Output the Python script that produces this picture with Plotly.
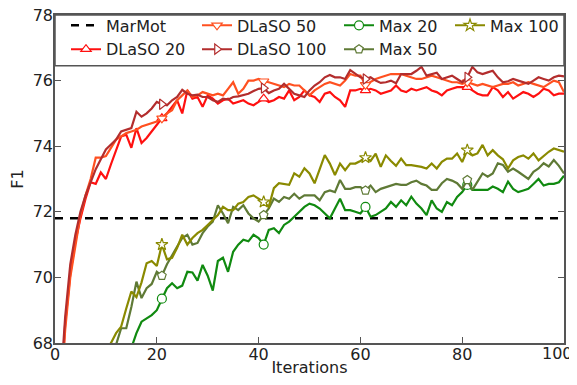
import plotly.graph_objects as go

iterations = list(range(1, 101))
marmot_f1 = 71.8

dlaso_20 = [66.0, 68.6, 70.1, 71.1, 71.8, 72.4, 72.9, 72.85, 73.2, 73.0,
            73.45, 73.85, 74.3, 74.35, 73.95, 74.55, 74.1, 74.25, 74.45, 74.65,
            74.85, 75.0, 75.2, 75.4, 75.0, 75.7, 75.45, 75.5, 75.2, 75.55,
            75.45, 75.3, 75.4, 75.45, 75.3, 75.35, 75.4, 75.3, 75.25, 75.35,
            75.45, 75.35, 75.4, 75.5, 75.45, 75.7, 75.4, 75.5, 75.7, 75.55,
            75.5, 75.35, 75.6, 75.65, 75.5, 75.4, 75.2, 75.7, 75.7, 75.75,
            75.7, 75.75, 75.7, 75.6, 75.65, 75.7, 75.85, 75.7, 75.65, 75.75,
            75.7, 75.75, 75.8, 75.7, 75.65, 75.55, 75.7, 75.75, 75.8, 75.8,
            75.8, 75.7, 75.6, 75.55, 75.55, 75.8, 75.7, 75.5, 75.65, 75.45,
            75.55, 75.65, 75.6, 75.5, 75.6, 75.75, 75.7, 75.55, 75.6, 75.6]

dlaso_50 = [66.2, 68.4, 70.0, 71.0, 71.9, 72.5, 73.0, 73.65, 73.65, 73.7,
            73.95, 74.2, 74.3, 74.4, 74.45, 74.5, 74.6, 74.65, 74.7, 74.75,
            74.85, 75.0, 75.1, 75.4, 75.55, 75.7, 75.5, 75.55, 75.65, 75.6,
            75.55, 75.6, 75.55, 75.75, 75.95, 75.6, 75.75, 76.0, 76.0, 76.05,
            75.98, 75.95, 75.9, 75.85, 75.8, 75.9, 75.85, 75.85, 75.7, 75.55,
            75.7, 75.8, 75.9, 75.95, 75.9, 75.85, 76.0, 76.2, 76.15, 76.15,
            75.87, 75.95, 76.05, 76.1, 76.15, 76.2, 76.2, 76.2, 76.15, 76.1,
            76.05, 76.05, 76.1, 76.15, 76.1, 76.05, 76.0, 75.95, 75.95, 75.9,
            75.95, 75.9, 75.85, 75.9, 75.85, 75.8, 75.85, 75.9, 75.9, 75.95,
            75.85, 75.9, 75.95, 75.9, 75.85, 75.8, 75.9, 76.0, 75.95, 75.65]

dlaso_100 = [66.5, 68.8, 70.4, 71.3, 72.0, 72.5, 72.9, 73.3, 73.6, 73.9,
             74.05, 74.2, 74.45, 74.5, 74.55, 75.05, 74.9, 75.0, 75.15, 75.35,
             75.28, 75.25, 75.4, 75.5, 75.72, 75.6, 75.55, 75.57, 75.5, 75.5,
             75.4, 75.35, 75.45, 75.42, 75.5, 75.52, 75.55, 75.6, 75.68, 75.75,
             75.77, 75.62, 75.7, 75.75, 75.9, 75.75, 75.6, 75.55, 75.5, 75.7,
             75.85, 75.95, 76.1, 76.17, 76.1, 76.1, 76.05, 76.32, 76.2, 76.1,
             76.05, 76.1, 76.0, 75.93, 75.95, 76.0, 75.92, 76.2, 76.2, 76.2,
             76.3, 76.42, 76.15, 76.2, 76.24, 76.05, 76.1, 76.15, 76.05, 75.95,
             76.1, 76.42, 76.25, 76.2, 76.25, 76.3, 76.1, 75.95, 75.98, 76.05,
             76.0, 75.95, 75.9, 76.0, 76.1, 76.05, 76.0, 76.1, 76.15, 76.13]

max_20 = [64.5, 65.0, 65.4, 65.8, 66.2, 66.5, 66.8, 67.0, 67.2, 67.4,
          67.5, 67.6, 67.7, 67.8, 67.85, 68.3, 68.65, 68.75, 68.85, 69.0,
          69.35, 69.67, 69.82, 69.67, 69.75, 70.17, 70.15, 69.9, 70.38, 70.05,
          69.6, 70.5, 70.6, 70.17, 70.78, 71.0, 71.15, 71.1, 71.3, 71.2,
          71.0, 71.45, 71.5, 71.35, 71.6, 71.7, 71.85, 72.0, 72.15, 72.25,
          72.2, 72.1, 71.95, 71.8, 72.1, 72.4, 72.05, 72.05, 72.0, 71.95,
          72.15, 71.85, 71.9, 72.0, 72.1, 72.3, 72.15, 72.35, 72.2, 72.46,
          72.25, 72.1, 71.9, 72.35, 72.1, 72.0, 72.3, 72.2, 72.45, 72.6,
          72.82, 72.67, 72.67, 72.67, 72.67, 72.77, 72.7, 72.6, 72.92, 72.7,
          72.6, 72.65, 72.7, 72.85, 73.0, 72.8, 72.85, 72.85, 72.9, 73.1]

max_50 = [65.0, 65.4, 65.8, 66.1, 66.4, 66.7, 67.0, 67.2, 67.4, 67.6,
          67.8, 67.95, 68.45, 68.45, 69.1, 69.87, 69.37, 69.67, 69.8, 70.17,
          70.05, 70.4, 70.65, 70.94, 71.2, 71.3, 71.0, 71.05, 71.35, 71.55,
          71.7, 72.2, 71.95, 71.65, 72.15, 72.05, 72.2, 71.95, 71.8, 71.7,
          71.9, 72.1, 72.4, 72.3, 72.45, 72.4, 72.55, 72.4, 72.5, 72.5,
          72.5, 72.35, 72.6, 72.65, 72.6, 72.97, 72.7, 72.7, 72.75, 72.75,
          72.65, 72.8, 72.6, 72.7, 72.75, 72.8, 72.85, 72.82, 72.82, 72.9,
          72.95, 72.85, 72.8, 72.67, 72.67, 72.87, 73.0, 72.95, 72.87, 72.7,
          72.97, 72.67, 72.92, 73.17, 73.07, 73.17, 73.48, 73.43, 73.22, 73.32,
          73.22, 73.1, 73.0, 73.22, 73.32, 73.48, 73.38, 73.58, 73.4, 73.17]

max_100 = [65.5, 65.9, 66.3, 66.6, 66.9, 67.1, 67.3, 67.5, 67.65, 67.8,
           68.0, 68.3, 68.5, 69.05, 69.57, 69.4, 69.85, 70.43, 70.5, 70.35,
           71.0, 70.55, 70.6, 70.9, 71.3, 71.0, 71.2, 71.35, 71.45, 71.6,
           71.75, 71.9, 72.15, 72.05, 72.05, 72.25, 72.3, 72.45, 72.5, 72.4,
           72.3, 72.15, 72.72, 72.87, 72.85, 72.82, 73.17, 73.07, 73.33, 73.17,
           72.87, 73.33, 73.73, 73.47, 73.12, 73.47, 73.27, 73.47, 73.47, 73.55,
           73.65, 73.55, 73.77, 73.37, 73.72, 73.55, 73.4, 73.62, 73.42, 73.42,
           73.4, 73.37, 73.32, 73.47, 73.32, 73.52, 73.62, 73.62, 73.78, 73.52,
           73.88, 73.72, 73.78, 74.04, 73.72, 73.88, 73.72, 73.6, 73.32, 73.57,
           73.67, 73.72, 73.62, 73.78, 73.57, 73.7, 73.83, 73.93, 73.88, 73.83]

x_range = [0, 100]
y_range = [68, 78]
x_ticks = [0, 20, 40, 60, 80, 100]
y_ticks = [68, 70, 72, 74, 76, 78]
marker_every = 20

FONT = "DejaVu Sans"

series = [
    # name, values, color, symbol, legend
    ("DLaSO 20", dlaso_20, "#ff1010", "triangle-up", "legend"),
    ("DLaSO 50", dlaso_50, "#ff5020", "triangle-down", "legend2"),
    ("DLaSO 100", dlaso_100, "#b32d2d", "triangle-right", "legend2"),
    ("Max 20", max_20, "#108a10", "circle", "legend3"),
    ("Max 50", max_50, "#5f7a36", "pentagon", "legend3"),
    ("Max 100", max_100, "#8a8a00", "star", "legend4"),
]

fig = go.Figure()

# MarMot baseline
fig.add_trace(go.Scatter(
    x=x_range, y=[marmot_f1, marmot_f1], mode="lines", name="MarMot",
    line=dict(color="black", width=2.5, dash="8px,7px"),
    legend="legend", showlegend=True, hoverinfo="skip"))

for name, vals, color, sym, leg in series:
    fig.add_trace(go.Scatter(
        x=iterations, y=vals, mode="lines", showlegend=False,
        line=dict(color=color, width=2.2), hoverinfo="skip"))
    fig.add_trace(go.Scatter(
        x=iterations[::marker_every], y=vals[::marker_every], mode="markers",
        showlegend=False,
        marker=dict(symbol=sym, size=9, color="white",
                    line=dict(color=color, width=1.2)),
        hoverinfo="skip"))

# legend entries
for name, vals, color, sym, leg in series:
    fig.add_trace(go.Scatter(
        x=[None], y=[None], mode="lines+markers", name=name, legend=leg,
        line=dict(color=color, width=2),
        marker=dict(symbol=sym, size=9, color="white",
                    line=dict(color=color, width=1.2))))

# legend frame
box_bottom = 76.45
fig.add_shape(type="rect", xref="paper", yref="y", x0=0, x1=1,
              y0=box_bottom, y1=y_range[1], fillcolor="white",
              line=dict(color="#555555", width=1.5), layer="above")

leg_common = dict(orientation="v", bgcolor="rgba(0,0,0,0)", borderwidth=0,
                  yanchor="top", xanchor="left", y=1.02,
                  font=dict(family=FONT, size=16, color="#222"),
                  tracegroupgap=0)

# the page body is offset by 8px; the figure is sized/margined to compensate
PAGE_OFF = 8
plot_left, plot_right, plot_top, plot_bottom = 55, 564, 15, 343
plot_width = plot_right - plot_left
col_text = [106, 237, 379, 490]
legends = {}
for i, key in enumerate(["legend", "legend2", "legend3", "legend4"]):
    d = dict(leg_common)
    d["x"] = (col_text[i] - 40 - plot_left) / plot_width
    legends[key] = d

axis_common = dict(showline=True, linecolor="#555555", linewidth=1.5, mirror="ticks",
                   ticks="inside", ticklen=6, tickcolor="#555555", tickwidth=1,
                   showgrid=False, zeroline=False, ticklabeloverflow="allow",
                   tickfont=dict(family=FONT, size=16, color="#222"))

# last x tick label is drawn right-aligned so it stays inside the window
x_ticktext = [str(t) for t in x_ticks[:-1]] + [""]
fig.add_annotation(x=x_ticks[-1], xref="x", y=0, yref="paper",
                   text=str(x_ticks[-1]), showarrow=False,
                   xanchor="right", yanchor="top", xshift=11, yshift=1,
                   font=dict(family=FONT, size=16, color="#222"))

fig_w = 577 - PAGE_OFF
fig_h = 385 - 2 * PAGE_OFF
fig.update_layout(
    width=fig_w, height=fig_h,
    margin=dict(l=plot_left - PAGE_OFF, r=fig_w - (plot_right - PAGE_OFF),
                t=plot_top - PAGE_OFF, b=fig_h - (plot_bottom - PAGE_OFF),
                autoexpand=False),
    paper_bgcolor="white", plot_bgcolor="white",
    font=dict(family=FONT, size=16, color="#222"),
    xaxis=dict(range=x_range, tickvals=x_ticks, ticktext=x_ticktext,
               ticklabelstandoff=-4,
               title=dict(text="Iterations", standoff=2,
                          font=dict(family=FONT, size=16, color="#222")),
               **axis_common),
    yaxis=dict(range=y_range, tickvals=y_ticks, ticklabelstandoff=-3,
               title=dict(text="F1", standoff=8,
                          font=dict(family=FONT, size=16, color="#222")),
               **axis_common),
    **legends,
)

fig.write_html("out.html")
